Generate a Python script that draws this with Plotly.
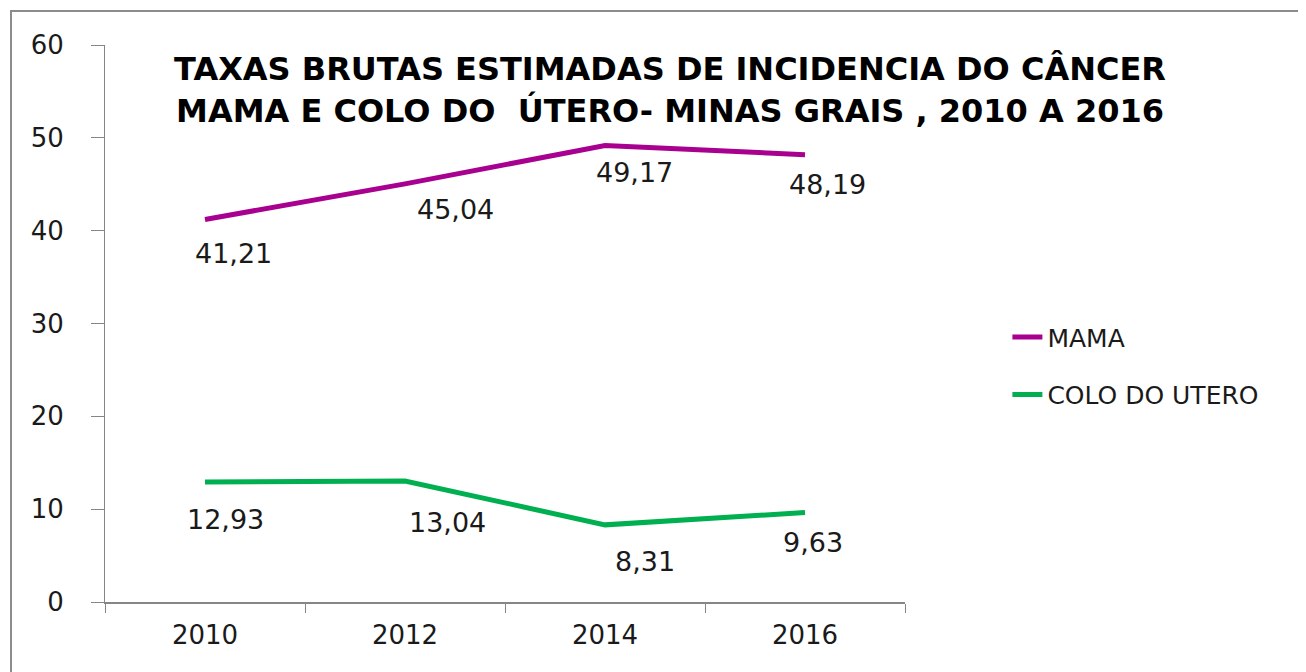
import plotly.graph_objects as go

years = ["2010", "2012", "2014", "2016"]
mama = [41.21, 45.04, 49.17, 48.19]
colo = [12.93, 13.04, 8.31, 9.63]
mama_labels = ["41,21", "45,04", "49,17", "48,19"]
colo_labels = ["12,93", "13,04", "8,31", "9,63"]

# label offsets (px) relative to each point
mama_off = [(28, -34), (50, -26), (29, -27), (22, -30)]
colo_off = [(20, -38), (42, -42), (40, -37), (8, -30)]

FONT = "DejaVu Sans"
fig = go.Figure()
fig.add_trace(go.Scatter(x=years, y=mama, mode="lines", name="MAMA", legendgroup="a",
                         line=dict(color="#A8008F", width=5)))
fig.add_trace(go.Scatter(x=years, y=colo, mode="lines", name="COLO DO UTERO", legendgroup="b",
                         line=dict(color="#00B050", width=5)))

for ys, labs, offs in [(mama, mama_labels, mama_off), (colo, colo_labels, colo_off)]:
    for i, (y, t, (dx, dy)) in enumerate(zip(ys, labs, offs)):
        fig.add_annotation(x=i, y=y, xref="x", yref="y", text=t, showarrow=False,
                           xshift=dx, yshift=dy,
                           font=dict(family=FONT, size=27, color="#1a1a1a"))

fig.add_shape(type="rect", xref="paper", yref="paper",
              x0=-0.1175, x1=1.55, y0=-0.2, y1=1.061,
              line=dict(color="#8c8c8c", width=2), fillcolor="rgba(0,0,0,0)", layer="below")

fig.update_layout(
    width=1298, height=664,
    margin=dict(l=97, r=401, t=37, b=70),
    paper_bgcolor="white", plot_bgcolor="white",
    title=dict(text="TAXAS BRUTAS ESTIMADAS DE INCIDENCIA DO CÂNCER<br>MAMA E COLO DO  ÚTERO- MINAS GRAIS , 2010 A 2016",
               x=662 / 1298, xanchor="center", xref="container",
               y=1 - 72 / 664, yanchor="middle", yref="container",
               font=dict(family=FONT, size=32, color="#000000", weight="bold")),
    showlegend=True,
    legend=dict(x=1.128, xanchor="left", y=0.424, yanchor="middle",
                font=dict(family=FONT, size=25, color="#1a1a1a"),
                bgcolor="rgba(0,0,0,0)", tracegroupgap=22),
    xaxis=dict(type="category", showgrid=False, showline=True, linecolor="#868686", linewidth=2,
               ticks="outside", tickson="boundaries", ticklen=9, tickcolor="#868686", tickwidth=1,
               tickfont=dict(family=FONT, size=26, color="#1a1a1a"), ticklabelstandoff=9,
               range=[-0.5, 3.5]),
    yaxis=dict(range=[0, 60], dtick=10, showgrid=False, showline=True, linecolor="#868686", linewidth=1,
               ticks="outside", ticklen=13, tickcolor="#868686", tickwidth=1,
               tickfont=dict(family=FONT, size=26, color="#1a1a1a"), ticklabelstandoff=22,
               zeroline=False),
)

fig.write_html("out.html")
